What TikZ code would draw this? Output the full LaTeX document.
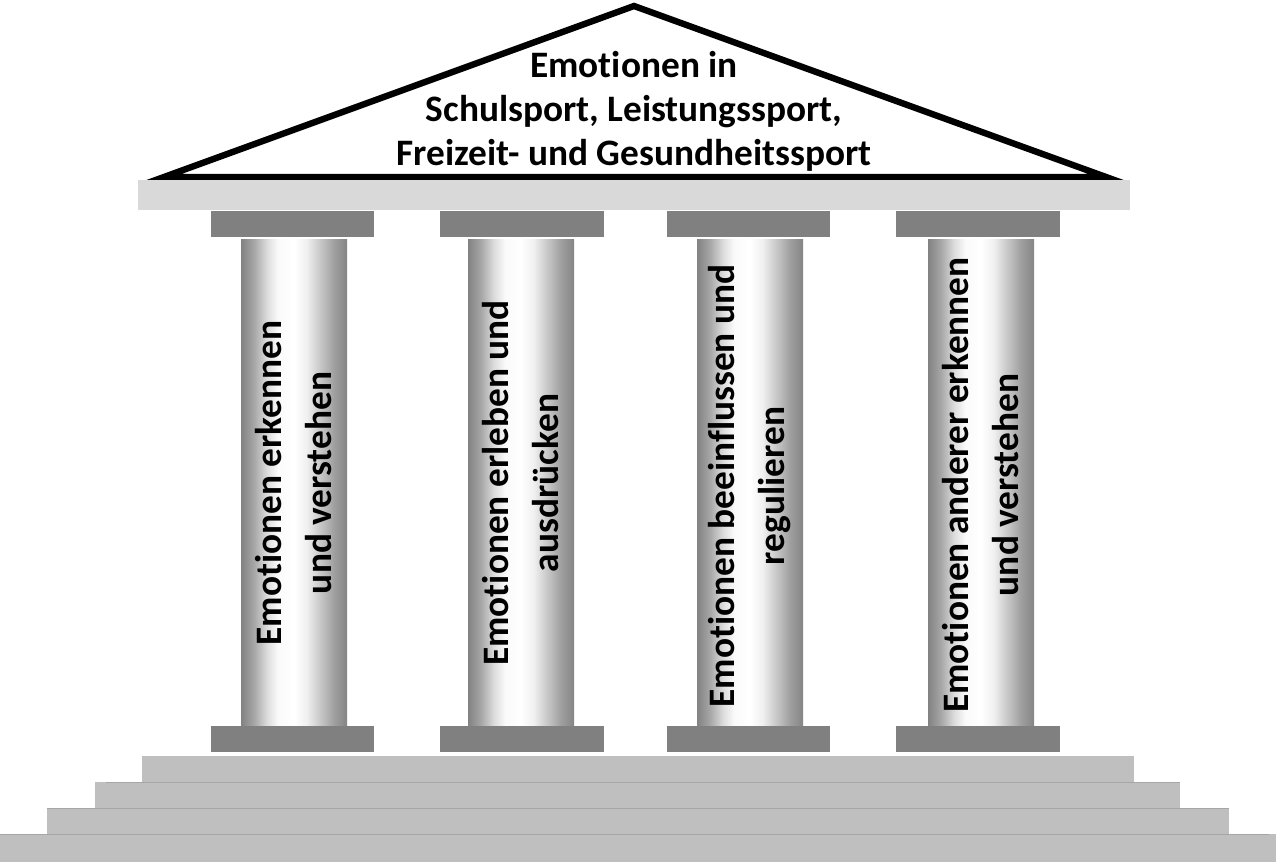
\documentclass[tikz,border=0pt]{standalone}
\usepackage{fontspec}
\newfontfamily\carl[Ligatures=NoCommon]{Carlito}
\pgfdeclarehorizontalshading{pillar}{100bp}{color(0bp)=(black!49); color(25bp)=(black!49); color(31bp)=(black!35); color(37.5bp)=(black!13); color(42.5bp)=(black!2); color(50bp)=(white); color(56bp)=(black!6); color(62.5bp)=(black!22); color(69bp)=(black!38); color(75bp)=(black!48); color(100bp)=(black!48)}
\definecolor{arch}{HTML}{D9D9D9}
\definecolor{capc}{HTML}{808080}
\definecolor{stepc}{HTML}{BFBFBF}
\definecolor{stepl}{HTML}{A6A6A6}
\tikzset{
  roofline/.style={draw=black, fill=white, line width=4.8pt, line join=miter},
  capbox/.style={fill=capc},
  shaft/.style={shading=pillar},
  stepbox/.style={fill=stepc},
  stepedge/.style={draw=stepl, line width=1.1pt},
  rooftext/.style={font=\carl\bfseries\fontsize{28}{33}\selectfont, align=center, inner sep=0pt},
  coltext/.style={font=\carl\bfseries\fontsize{28}{37.5}\selectfont, align=center, inner sep=0pt, rotate=90}
}
\begin{document}
\begin{tikzpicture}[x=0.75pt,y=-0.75pt]
\useasboundingbox (0,0) rectangle (1276,862);
% roof
\draw[roofline] (164,177) -- (634,6) -- (1106,177) -- cycle;
\node[rooftext] (roof) at (634,111) {Emotionen in\\Schulsport, Leistungssport,\\Freizeit- und Gesundheitssport};
% architrave
\fill[arch] (138,180) rectangle (1130,210);
% capitals and bases
\foreach \a/\b in {211/374,440/604,667/830,896/1060}{
  \fill[capbox] (\a,211) rectangle (\b,237);
  \fill[capbox] (\a,726) rectangle (\b,752);
}
% shafts
\foreach \a/\b in {241/347,468/574,697/803,928/1034}{
  \fill[shaft] (\a,240) rectangle (\b,725);
}
\node[coltext] (c1) at (294,483) {Emotionen erkennen\\und verstehen};
\node[coltext] (c2) at (521,483) {Emotionen erleben und\\ausdrücken};
\node[coltext] (c3) at (750,486) {Emotionen beeinflussen und\\regulieren};
\node[coltext] (c4) at (981,485) {Emotionen anderer erkennen\\und verstehen};
% steps
\fill[stepbox] (142,756) rectangle (1134,782);
\fill[stepbox] (95,782) rectangle (1180,808);
\fill[stepbox] (47,808) rectangle (1229,834);
\fill[stepbox] (0,834) rectangle (1276,862);
\draw[stepedge] (106,782.5) -- (1180,782.5);
\draw[stepedge] (47,808.5) -- (1229,808.5);
\draw[stepedge] (0,834.5) -- (1269,834.5);
\end{tikzpicture}
\end{document}
